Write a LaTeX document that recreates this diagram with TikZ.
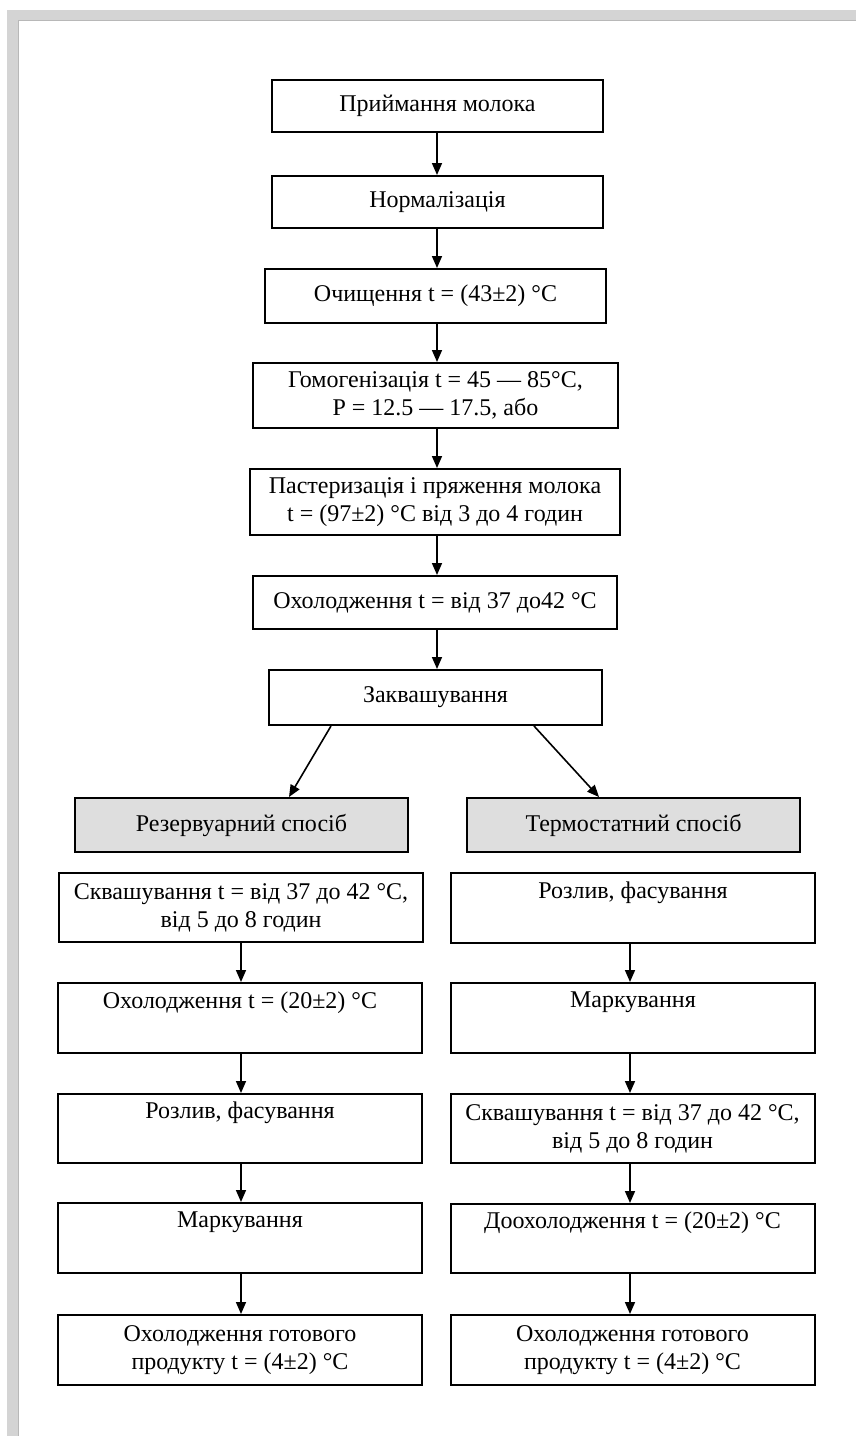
\documentclass[tikz,border=0pt]{standalone}
\usepackage{fontspec}
\setmainfont{Liberation Serif}
\usetikzlibrary{arrows.meta,calc}
\begin{document}
\begin{tikzpicture}[x=1pt,y=-1pt,
  box/.style={draw,line width=2pt,rectangle,inner sep=0pt,align=center,
              font=\fontsize{24}{28}\selectfont},
  sz/.style 2 args={minimum width=#1pt,minimum height=#2pt},
  method/.style={box,fill=black!13},
  arr/.style={line width=1.6pt,-{Triangle[length=12pt,width=10pt]}},
  framefill/.style={fill=black!17}
]
\fill[white] (0,0) rectangle (856,1436);
\useasboundingbox (0,0) rectangle (856,1436);
% page frame
\fill[framefill] (7,10) rectangle (856,20);
\fill[framefill] (7,10) rectangle (18,1436);
\draw[black!28,line width=0.8pt] (18,1436) -- (18,20) -- (856,20);

% main column
\node[box,sz={331}{52}] (b1) at (437.5,106) {Приймання молока};
\node[box,sz={331}{52}] (b2) at (437.5,202) {Нормалізація};
\node[box,sz={341}{54}] (b3) at (435.5,296) {Очищення t = (43±2) °C};
\node[box,sz={365}{65}] (b4) at (435.5,395.5) {Гомогенізація t = 45 — 85°C,\\ P = 12.5 — 17.5, або};
\node[box,sz={370}{66}] (b5) at (435,502) {Пастеризація і пряження молока\\ t = (97±2) °C від 3 до 4 годин};
\node[box,sz={364}{53}] (b6) at (435,602.5) {Охолодження t = від 37 до42 °C};
\node[box,sz={333}{55}] (b7) at (435.5,697.5) {Заквашування};

% method boxes
\node[method,sz={333}{54}] (b8) at (241.5,825) {Резервуарний спосіб};
\node[method,sz={333}{54}] (b9) at (633.5,825) {Термостатний спосіб};

% left column
\node[box,sz={364}{69}] (l1) at (241,907.5) {Сквашування t = від 37 до 42 °C,\\ від 5 до 8 годин};
\node[box,sz={364}{70}] (l2) at (240,1018) {Охолодження t = (20±2) °C\\ \strut};
\node[box,sz={364}{69}] (l3) at (240,1128.5) {Розлив, фасування\\ \strut};
\node[box,sz={364}{70}] (l4) at (240,1238) {Маркування\\ \strut};
\node[box,sz={364}{70}] (l5) at (240,1350) {Охолодження готового\\ продукту t = (4±2) °C};

% right column
\node[box,sz={364}{70}] (r1) at (633,908) {Розлив, фасування\\ \strut};
\node[box,sz={364}{70}] (r2) at (633,1018) {Маркування\\ \strut};
\node[box,sz={364}{69}] (r3) at (632.5,1128.5) {Сквашування t = від 37 до 42 °C,\\ від 5 до 8 годин};
\node[box,sz={364}{69}] (r4) at (632.5,1238.5) {Доохолодження t = (20±2) °C\\ \strut};
\node[box,sz={364}{70}] (r5) at (632.5,1350) {Охолодження готового\\ продукту t = (4±2) °C};

% arrow axes
\coordinate (ax) at (437,0);
\coordinate (lx) at (241,0);
\coordinate (rx) at (630,0);

\foreach \a/\b in {b1/b2,b2/b3,b3/b4,b4/b5,b5/b6,b6/b7}
  \draw[arr] (\a.south -| ax) -- (\b.north -| ax);
\foreach \a/\b in {l1/l2,l2/l3,l3/l4,l4/l5}
  \draw[arr] (\a.south -| lx) -- (\b.north -| lx);
\foreach \a/\b in {r1/r2,r2/r3,r3/r4,r4/r5}
  \draw[arr] (\a.south -| rx) -- (\b.north -| rx);

\draw[arr] ($(b7.south west)+(63,0)$) -- ($(b8.north west)+(215,0)$);
\draw[arr] ($(b7.south east)+(-69,0)$) -- ($(b9.north west)+(133,0)$);
\end{tikzpicture}
\end{document}
